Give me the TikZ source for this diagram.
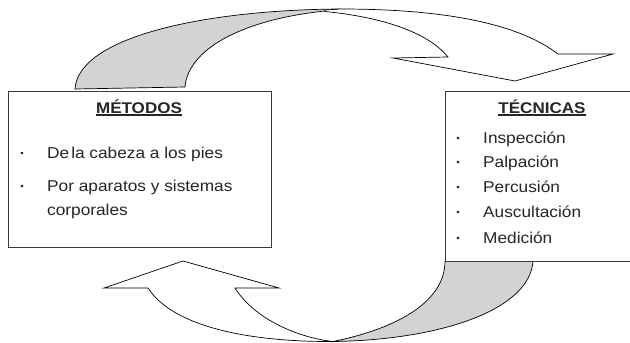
\documentclass[tikz,border=0pt]{standalone}
\usepackage{fontspec}
\setmainfont[FakeStretch=1.1]{Liberation Sans}
\newcommand\myul[1]{\setbox0\hbox{#1}\rlap{\rule[-2.6pt]{\wd0}{1.3pt}}\box0}
\definecolor{bandgray}{HTML}{D3D3D5}
\definecolor{boxline}{HTML}{3A3A3A}
\tikzset{
  band/.style={draw=black, line width=0.7pt, fill=bandgray, line join=round},
  blockarrow/.style={draw=black, line width=0.7pt, fill=white, line join=miter},
  panel/.style={draw=boxline, line width=1.2pt, fill=white, anchor=north west, inner sep=0pt},
  txt/.style={anchor=base west, inner sep=0pt, text=black!85, font=\fontsize{15.7}{18}\selectfont},
  ttl/.style={anchor=base, inner sep=0pt, text=black!85, font=\fontsize{15.5}{18}\selectfont\bfseries},
  bul/.style={anchor=base, inner sep=0pt, text=black!85, font=\fontsize{9}{9}\selectfont}
}
\begin{document}
\begin{tikzpicture}[x=1pt,y=-1pt]
\useasboundingbox (0,0) rectangle (630,343);
% top curved arrow
\path[band] (75,89) .. controls (78,38) and (200,10) .. (340,9)
  -- (325,11) .. controls (240,20) and (188,50) .. (185,87) -- cycle;
\path[blockarrow] (325,10) -- (340,9) .. controls (450,9) and (520,25) .. (558,54)
  -- (613,54) -- (515,81) -- (393,58) -- (448,57)
  .. controls (430,35) and (390,18) .. (325,11.5) -- cycle;
% bottom curved arrow
\path[band] (445,261) .. controls (445,305) and (390,330) .. (333,341.5)
  .. controls (440,340) and (530,310) .. (533,261) -- cycle;
\path[blockarrow] (148,288) .. controls (175,330) and (260,342) .. (333,341.5)
  .. controls (300,338) and (255,320) .. (235,288)
  -- (279,288) -- (183,261) -- (104,288) -- cycle;
% boxes
\node[panel, minimum width=262.5pt, minimum height=156pt] (metodos) at (8,91) {};
\node[panel, minimum width=187pt, minimum height=170pt] (tecnicas) at (445,91) {};
% left texts
\node[ttl] (mt) at (139,113) {\myul{MÉTODOS}};
\node[bul] (mb1) at (22,156) {•};
\node[txt] (m1) at (47,158) {De\hspace{2pt}la cabeza a los pies};
\node[bul] (mb2) at (22,189) {•};
\node[txt] (m2) at (47,191) {Por aparatos y sistemas};
\node[txt] (m3) at (47,215) {corporales};
% right texts
\node[ttl] (tt) at (542,113) {\myul{TÉCNICAS}};
\node[bul] (tb1) at (458,141) {•};
\node[txt] (t1) at (483,143) {Inspección};
\node[bul] (tb2) at (458,165.5) {•};
\node[txt] (t2) at (483,167.5) {Palpación};
\node[bul] (tb3) at (458,190) {•};
\node[txt] (t3) at (483,192) {Percusión};
\node[bul] (tb4) at (458,215) {•};
\node[txt] (t4) at (483,217) {Auscultación};
\node[bul] (tb5) at (458,241.5) {•};
\node[txt] (t5) at (483,243.5) {Medición};
\end{tikzpicture}
\end{document}
